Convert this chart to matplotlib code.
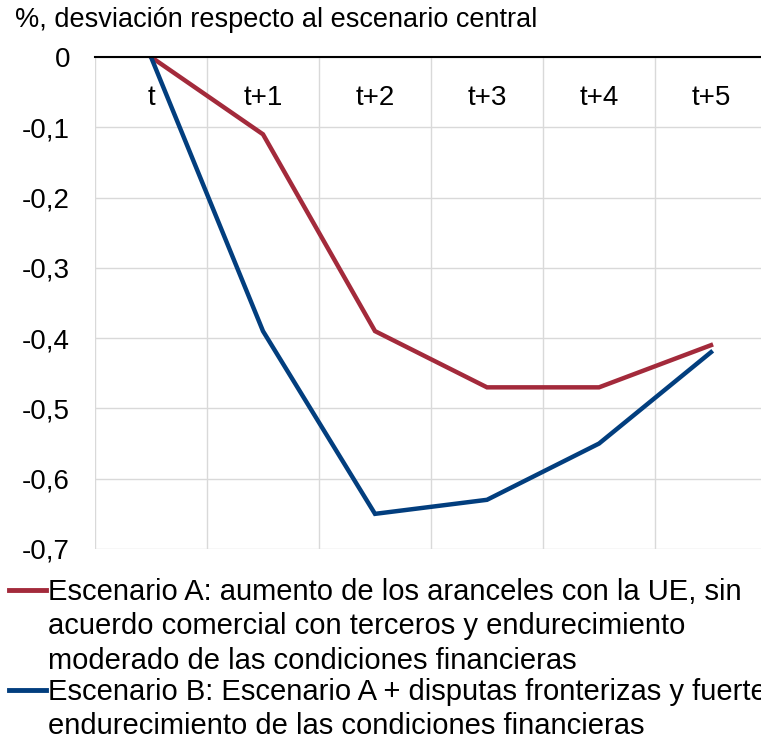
import numpy as np
import matplotlib.pyplot as plt
from matplotlib.lines import Line2D
from matplotlib.ticker import FixedLocator, FuncFormatter

plt.rcParams['font.family'] = ['Liberation Sans', 'DejaVu Sans']

periodos = ["t", "t+1", "t+2", "t+3", "t+4", "t+5"]
escenario_a = [0, -0.11, -0.39, -0.47, -0.47, -0.41]
escenario_b = [0, -0.39, -0.65, -0.63, -0.55, -0.42]
etiqueta_a = ("Escenario A: aumento de los aranceles con la UE, sin\n"
              "acuerdo comercial con terceros y endurecimiento\n"
              "moderado de las condiciones financieras")
etiqueta_b = ("Escenario B: Escenario A + disputas fronterizas y fuerte\n"
              "endurecimiento de las condiciones financieras")

rojo = "#A32A3B"
azul = "#023E7E"
W, H = 761, 740

fig = plt.figure(figsize=(7.61, 7.40), dpi=100)
ax = fig.add_axes([95/W, 1-549/H, 672/W, (549-57)/H])

x = np.arange(len(periodos))
ax.plot(x, escenario_a, color=rojo, lw=3.2, solid_joinstyle='miter')
ax.plot(x, escenario_b, color=azul, lw=3.2, solid_joinstyle='miter')

ax.set_xlim(-0.5, len(periodos) - 0.5)
ax.set_ylim(-0.7, 0)
ax.set_yticks(np.arange(-0.7, 0.01, 0.1))
ax.yaxis.set_major_formatter(FuncFormatter(lambda v, p: "0" if abs(v) < 1e-9 else f"{v:.1f}".replace(".", ",")))
ax.set_xticks(x)
ax.set_xticklabels(periodos)
ax.xaxis.set_minor_locator(FixedLocator(np.arange(-0.5, len(periodos), 1)))

ax.spines['bottom'].set_position(('data', 0))
ax.spines['bottom'].set_color('black')
ax.spines['bottom'].set_linewidth(1.5)
for s in ['top', 'right', 'left']:
    ax.spines[s].set_visible(False)

ax.grid(axis='y', which='major', color='#D9D9D9', lw=1)
ax.grid(axis='x', which='minor', color='#D9D9D9', lw=1)
ax.set_axisbelow(True)
ax.tick_params(axis='x', which='both', length=0, labelsize=20, pad=20)
ax.tick_params(axis='y', length=0, labelsize=20, pad=18)

fig.text(15/W, 1-20/H, "%, desviación respecto al escenario central",
         fontsize=19.5, va='center', ha='left')

# leyenda manual, con la línea alineada a la primera línea del texto
for color, texto, yc in [(rojo, etiqueta_a, 590), (azul, etiqueta_b, 690)]:
    fig.add_artist(Line2D([9/W, 46/W], [1-yc/H, 1-yc/H], color=color, lw=3.5,
                          transform=fig.transFigure))
    fig.text(48/W, 1-(yc-12.5)/H, texto, fontsize=21, va='top', ha='left',
             linespacing=1.3)

fig.savefig("out.png", dpi=100)
